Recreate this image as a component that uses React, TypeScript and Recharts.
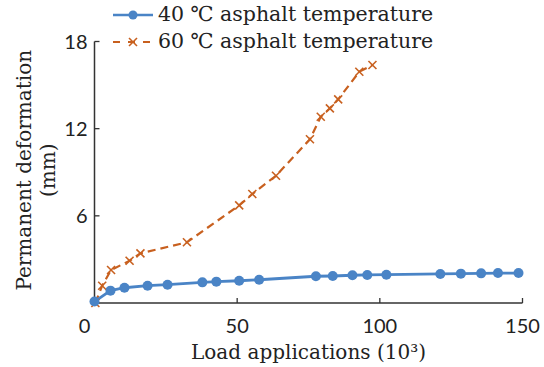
import { LineChart, Line, XAxis, YAxis } from 'recharts';

// load applications (x10^3) and permanent deformation (mm)
const loads40 = [0, 5.6, 10.5, 18.6, 25.6, 37.8, 42.7, 50.7, 57.7, 77.6, 83.5, 90.4, 95.6, 102.3, 121.2, 128.4, 135.5, 141.4, 148.6];
const def40 = [0.1, 0.85, 1.05, 1.19, 1.26, 1.42, 1.47, 1.53, 1.6, 1.84, 1.86, 1.91, 1.93, 1.95, 2.0, 2.02, 2.04, 2.06, 2.06];

const loads60 = [0.3, 2.7, 5.8, 12.3, 16.1, 32.4, 50.7, 55.3, 63.6, 75.5, 79.3, 82.5, 85.4, 92.8, 97.4];
const def60 = [0, 1.19, 2.27, 2.91, 3.42, 4.18, 6.72, 7.5, 8.76, 11.27, 12.82, 13.4, 14.02, 15.92, 16.38];

const xTicks = [0, 50, 100, 150];
const yTicks = [0, 6, 12, 18];

const series40 = loads40.map((x, i) => ({ x, y: def40[i] }));
const series60 = loads60.map((x, i) => ({ x, y: def60[i] }));

const BLUE = '#4a84c6';
const ORANGE = '#c8601f';
const AXIS = '#333';
const serif = '"DejaVu Serif", serif';
const sans = 'Lato, "Open Sans", sans-serif';

const Cross = (props: any) => {
  const { cx, cy } = props;
  if (cx == null || cy == null) return null;
  const s = 4;
  return (
    <g stroke={ORANGE} strokeWidth={1.6}>
      <line x1={cx - s} y1={cy - s} x2={cx + s} y2={cy + s} />
      <line x1={cx - s} y1={cy + s} x2={cx + s} y2={cy - s} />
    </g>
  );
};

// x ticks point up into the plot
const XTick = (props: any) => {
  const { x, y, payload } = props;
  const v = payload.value;
  return (
    <g>
      {v !== 0 && <line x1={x} y1={y - 8} x2={x} y2={y - 13} stroke={AXIS} strokeWidth={1.3} />}
      <text x={v === 0 ? x - 10 : x} y={y + 22} textAnchor="middle" fontFamily={sans} fontSize={20} fill="#222">
        {v}
      </text>
    </g>
  );
};

// y ticks point right into the plot
const YTick = (props: any) => {
  const { x, y, payload } = props;
  if (payload.value === 0) return null;
  return (
    <g>
      <line x1={x + 8} y1={y} x2={x + 13} y2={y} stroke={AXIS} strokeWidth={1.3} />
      <text x={x + 1} y={y + 7} textAnchor="end" fontFamily={sans} fontSize={20} fill="#222">
        {payload.value}
      </text>
    </g>
  );
};

const YTitle = (props: any) => {
  const { viewBox } = props;
  const cy = viewBox.y + viewBox.height / 2 - 2;
  return (
    <g fontFamily={serif} fontSize={20} fill="#222" textAnchor="middle">
      <text x={25} y={cy} transform={`rotate(-90, 25, ${cy})`} dy={6}>Permanent deformation</text>
      <text x={49} y={cy} transform={`rotate(-90, 49, ${cy})`} dy={6}>(mm)</text>
    </g>
  );
};

export default function App() {
  return (
    <div style={{ position: 'absolute', left: 0, top: 0, width: 544, height: 367, background: '#fff' }}>
      <LineChart width={544} height={367} margin={{ top: 41.5, right: 21.5, bottom: 0, left: 0 }}>
        <XAxis
          type="number"
          dataKey="x"
          domain={[0, 150]}
          ticks={xTicks}
          tick={<XTick />}
          tickLine={false}
          axisLine={{ stroke: AXIS, strokeWidth: 1.5 }}
          height={64}
          label={{ value: 'Load applications (10³)', position: 'insideBottom', offset: 8, fontFamily: serif, fontSize: 20, fill: '#222' }}
        />
        <YAxis
          type="number"
          dataKey="y"
          domain={[0, 18]}
          ticks={yTicks}
          tick={<YTick />}
          tickLine={false}
          axisLine={{ stroke: AXIS, strokeWidth: 1.5 }}
          width={94.5}
          label={<YTitle />}
        />
        <Line
          data={series60}
          dataKey="y"
          type="linear"
          stroke={ORANGE}
          strokeWidth={2.2}
          strokeDasharray="8 5"
          dot={<Cross />}
          activeDot={false}
          isAnimationActive={false}
        />
        <Line
          data={series40}
          dataKey="y"
          type="linear"
          stroke={BLUE}
          strokeWidth={2.8}
          dot={{ r: 5, fill: BLUE, stroke: BLUE, strokeWidth: 0 }}
          activeDot={false}
          isAnimationActive={false}
        />
      </LineChart>
      <div style={{ position: 'absolute', left: 112, top: 1, fontFamily: serif, fontSize: 20.5, color: '#222', lineHeight: '27px' }}>
        <div style={{ display: 'flex', alignItems: 'center', whiteSpace: 'nowrap' }}>
          <svg width={42} height={14} style={{ marginRight: 4 }}>
            <line x1={1} y1={7} x2={41} y2={7} stroke={BLUE} strokeWidth={2.5} />
            <circle cx={21} cy={7} r={4.5} fill={BLUE} />
          </svg>
          40 ℃ asphalt temperature
        </div>
        <div style={{ display: 'flex', alignItems: 'center', whiteSpace: 'nowrap' }}>
          <svg width={42} height={14} style={{ marginRight: 4 }}>
            <line x1={1} y1={7} x2={41} y2={7} stroke={ORANGE} strokeWidth={2.2} strokeDasharray="7 8" />
            <g stroke={ORANGE} strokeWidth={1.6}>
              <line x1={17} y1={3} x2={25} y2={11} />
              <line x1={17} y1={11} x2={25} y2={3} />
            </g>
          </svg>
          60 ℃ asphalt temperature
        </div>
      </div>
    </div>
  );
}
